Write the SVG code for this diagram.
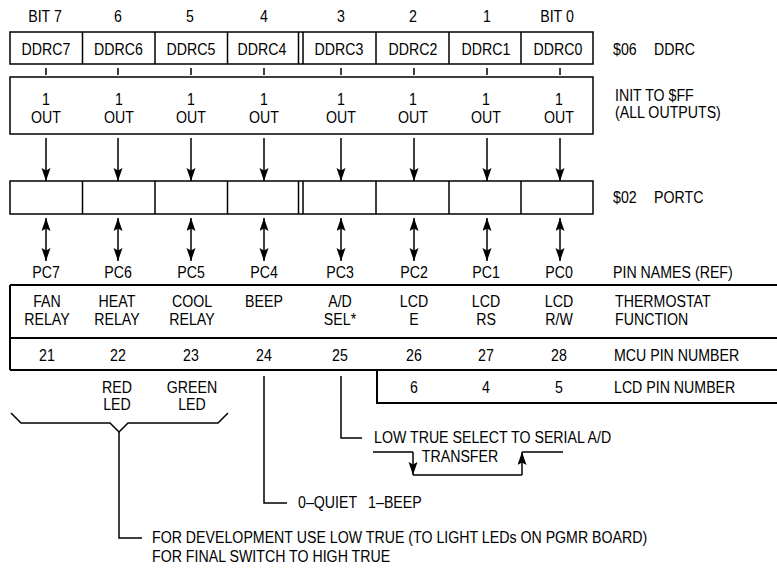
<svg xmlns="http://www.w3.org/2000/svg" width="777" height="569" viewBox="0 0 777 569">
<style>
.t{font-family:"Liberation Sans",Arial,Helvetica,sans-serif;font-size:16.5px;fill:#000}
.m{text-anchor:middle}
.box{fill:#fff;stroke:#000;stroke-width:1.5}
.ln{stroke:#000;stroke-width:1.5;fill:none}
.tb{stroke:#000;stroke-width:2;fill:none}
.arr{stroke:#000;stroke-width:1.5;fill:none;marker-end:url(#ah)}
.darr{stroke:#000;stroke-width:1.5;fill:none;marker-end:url(#ah);marker-start:url(#ah)}
</style>
<defs>
<marker id="ah" markerUnits="userSpaceOnUse" markerWidth="14" markerHeight="10" refX="13" refY="4.5" orient="auto-start-reverse">
<path d="M0,0 L13,4.5 L0,9 L2.5,4.5 z" fill="#000"/>
</marker>
</defs>
<rect width="777" height="569" fill="#fff"/>

<g id="bit-labels">
<text class="t m" transform="translate(45 22) scale(.86 1)">BIT 7</text>
<text class="t m" transform="translate(118 22) scale(.86 1)">6</text>
<text class="t m" transform="translate(190 22) scale(.86 1)">5</text>
<text class="t m" transform="translate(264 22) scale(.86 1)">4</text>
<text class="t m" transform="translate(341 22) scale(.86 1)">3</text>
<text class="t m" transform="translate(413 22) scale(.86 1)">2</text>
<text class="t m" transform="translate(487 22) scale(.86 1)">1</text>
<text class="t m" transform="translate(557 22) scale(.86 1)">BIT 0</text>
</g>

<g id="ddrc-register">
<rect class="box" x="10" y="32" width="583" height="32"/>
<path class="ln" d="M82.5,32V64M155,32V64M227.5,32V64M298.5,32V64M303,32V64M376,32V64M449,32V64M521,32V64"/>
<text class="t m" transform="translate(46 55) scale(.86 1)">DDRC7</text>
<text class="t m" transform="translate(118.5 55) scale(.86 1)">DDRC6</text>
<text class="t m" transform="translate(191 55) scale(.86 1)">DDRC5</text>
<text class="t m" transform="translate(262 55) scale(.86 1)">DDRC4</text>
<text class="t m" transform="translate(339 55) scale(.86 1)">DDRC3</text>
<text class="t m" transform="translate(413 55) scale(.86 1)">DDRC2</text>
<text class="t m" transform="translate(486 55) scale(.86 1)">DDRC1</text>
<text class="t m" transform="translate(558 55) scale(.86 1)">DDRC0</text>
<text class="t" transform="translate(613 55) scale(.86 1)">$06<tspan x="47.7">DDRC</tspan></text>
</g>

<g id="init-box">
<rect class="box" x="10" y="77" width="583" height="57"/>
<g class="t m">
<text transform="translate(46 105) scale(.86 1)">1</text>
<text transform="translate(46 123) scale(.86 1)">OUT</text>
<text transform="translate(119 105) scale(.86 1)">1</text>
<text transform="translate(119 123) scale(.86 1)">OUT</text>
<text transform="translate(191 105) scale(.86 1)">1</text>
<text transform="translate(191 123) scale(.86 1)">OUT</text>
<text transform="translate(264 105) scale(.86 1)">1</text>
<text transform="translate(264 123) scale(.86 1)">OUT</text>
<text transform="translate(341 105) scale(.86 1)">1</text>
<text transform="translate(341 123) scale(.86 1)">OUT</text>
<text transform="translate(413 105) scale(.86 1)">1</text>
<text transform="translate(413 123) scale(.86 1)">OUT</text>
<text transform="translate(486 105) scale(.86 1)">1</text>
<text transform="translate(486 123) scale(.86 1)">OUT</text>
<text transform="translate(559 105) scale(.86 1)">1</text>
<text transform="translate(559 123) scale(.86 1)">OUT</text>
</g>
<text class="t" transform="translate(615 101) scale(.86 1)">INIT TO $FF</text>
<text class="t" transform="translate(615 118) scale(.86 1)">(ALL OUTPUTS)</text>
</g>

<g id="portc-register">
<rect class="box" x="10" y="181" width="583" height="33"/>
<path class="ln" d="M82.5,181V214M155,181V214M227.5,181V214M298.5,181V214M303,181V214M376,181V214M449,181V214M521,181V214"/>
<text class="t" transform="translate(613 203) scale(.86 1)">$02<tspan x="47.7">PORTC</tspan></text>
</g>

<g id="pin-names">
<text class="t m" transform="translate(46 278) scale(.86 1)">PC7</text>
<text class="t m" transform="translate(118 278) scale(.86 1)">PC6</text>
<text class="t m" transform="translate(191 278) scale(.86 1)">PC5</text>
<text class="t m" transform="translate(264 278) scale(.86 1)">PC4</text>
<text class="t m" transform="translate(340 278) scale(.86 1)">PC3</text>
<text class="t m" transform="translate(414 278) scale(.86 1)">PC2</text>
<text class="t m" transform="translate(486 278) scale(.86 1)">PC1</text>
<text class="t m" transform="translate(559 278) scale(.86 1)">PC0</text>
<text class="t" transform="translate(613 278) scale(.86 1)">PIN NAMES (REF)</text>
</g>

<g id="function-table">
<path class="tb" d="M10,285H777M10,338H777M10,370H777M10,285V370"/>
<text class="t m" transform="translate(47 307) scale(.86 1)">FAN</text>
<text class="t m" transform="translate(47 325) scale(.86 1)">RELAY</text>
<text class="t m" transform="translate(117 307) scale(.86 1)">HEAT</text>
<text class="t m" transform="translate(117 325) scale(.86 1)">RELAY</text>
<text class="t m" transform="translate(192 307) scale(.86 1)">COOL</text>
<text class="t m" transform="translate(192 325) scale(.86 1)">RELAY</text>
<text class="t m" transform="translate(264 307) scale(.86 1)">BEEP</text>
<text class="t m" transform="translate(340 307) scale(.86 1)">A/D</text>
<text class="t m" transform="translate(340 325) scale(.86 1)">SEL*</text>
<text class="t m" transform="translate(414 307) scale(.86 1)">LCD</text>
<text class="t m" transform="translate(414 325) scale(.86 1)">E</text>
<text class="t m" transform="translate(486 307) scale(.86 1)">LCD</text>
<text class="t m" transform="translate(486 325) scale(.86 1)">RS</text>
<text class="t m" transform="translate(559 307) scale(.86 1)">LCD</text>
<text class="t m" transform="translate(559 325) scale(.86 1)">R/W</text>
<text class="t" transform="translate(615 307) scale(.86 1)">THERMOSTAT</text>
<text class="t" transform="translate(615 325) scale(.86 1)">FUNCTION</text>
<text class="t m" transform="translate(47 361) scale(.86 1)">21</text>
<text class="t m" transform="translate(118 361) scale(.86 1)">22</text>
<text class="t m" transform="translate(191 361) scale(.86 1)">23</text>
<text class="t m" transform="translate(264 361) scale(.86 1)">24</text>
<text class="t m" transform="translate(340 361) scale(.86 1)">25</text>
<text class="t m" transform="translate(414 361) scale(.86 1)">26</text>
<text class="t m" transform="translate(486 361) scale(.86 1)">27</text>
<text class="t m" transform="translate(559 361) scale(.86 1)">28</text>
<text class="t" transform="translate(614 361) scale(.86 1)">MCU PIN NUMBER</text>
</g>

<g id="lcd-pins">
<path class="tb" d="M377,370V403H777"/>
<text class="t m" transform="translate(414 393) scale(.86 1)">6</text>
<text class="t m" transform="translate(486 393) scale(.86 1)">4</text>
<text class="t m" transform="translate(559 393) scale(.86 1)">5</text>
<text class="t" transform="translate(614 393) scale(.86 1)">LCD PIN NUMBER</text>
</g>

<g id="led-labels">
<text class="t m" transform="translate(117 393) scale(.86 1)">RED</text>
<text class="t m" transform="translate(117 410) scale(.86 1)">LED</text>
<text class="t m" transform="translate(192 393) scale(.86 1)">GREEN</text>
<text class="t m" transform="translate(192 410) scale(.86 1)">LED</text>
</g>

<g id="connectors">
<path class="ln" d="M46,68V75M118,68V75M191,68V75M264,68V75M341,68V75M414,68V75M487,68V75M560,68V75"/>
<line class="arr" x1="46" y1="138" x2="46" y2="181"/>
<line class="arr" x1="118" y1="138" x2="118" y2="181"/>
<line class="arr" x1="191" y1="138" x2="191" y2="181"/>
<line class="arr" x1="264" y1="138" x2="264" y2="181"/>
<line class="arr" x1="341" y1="138" x2="341" y2="181"/>
<line class="arr" x1="414" y1="138" x2="414" y2="181"/>
<line class="arr" x1="487" y1="138" x2="487" y2="181"/>
<line class="arr" x1="560" y1="138" x2="560" y2="181"/>
<line class="darr" x1="46" y1="218" x2="46" y2="261"/>
<line class="darr" x1="118" y1="218" x2="118" y2="261"/>
<line class="darr" x1="191" y1="218" x2="191" y2="261"/>
<line class="darr" x1="264" y1="218" x2="264" y2="261"/>
<line class="darr" x1="341" y1="218" x2="341" y2="261"/>
<line class="darr" x1="414" y1="218" x2="414" y2="261"/>
<line class="darr" x1="487" y1="218" x2="487" y2="261"/>
<line class="darr" x1="560" y1="218" x2="560" y2="261"/>
<path class="ln" d="M11,413L21,423H110L119,432L128,423H218L228,413"/>
<path class="ln" d="M119,432V538H142"/>
<path class="ln" d="M264,376V503H287"/>
<path class="ln" d="M341,376V438H362"/>
<path class="ln" d="M373,452H413M413,475H522M522,452H563"/>
<line class="arr" x1="413" y1="452" x2="413" y2="475"/>
<line class="arr" x1="522" y1="475" x2="522" y2="452"/>
</g>

<g id="notes">
<text class="t" transform="translate(374 443) scale(.86 1)">LOW TRUE SELECT TO SERIAL A/D</text>
<text class="t m" transform="translate(460 462) scale(.86 1)">TRANSFER</text>
<text class="t" transform="translate(298 508) scale(.86 1)">0–QUIET<tspan dx="12.8">1–BEEP</tspan></text>
<text class="t" transform="translate(152 543) scale(.86 1)">FOR DEVELOPMENT USE LOW TRUE (TO LIGHT LEDs ON PGMR BOARD)</text>
<text class="t" transform="translate(152 562) scale(.86 1)">FOR FINAL SWITCH TO HIGH TRUE</text>
</g>
</svg>
